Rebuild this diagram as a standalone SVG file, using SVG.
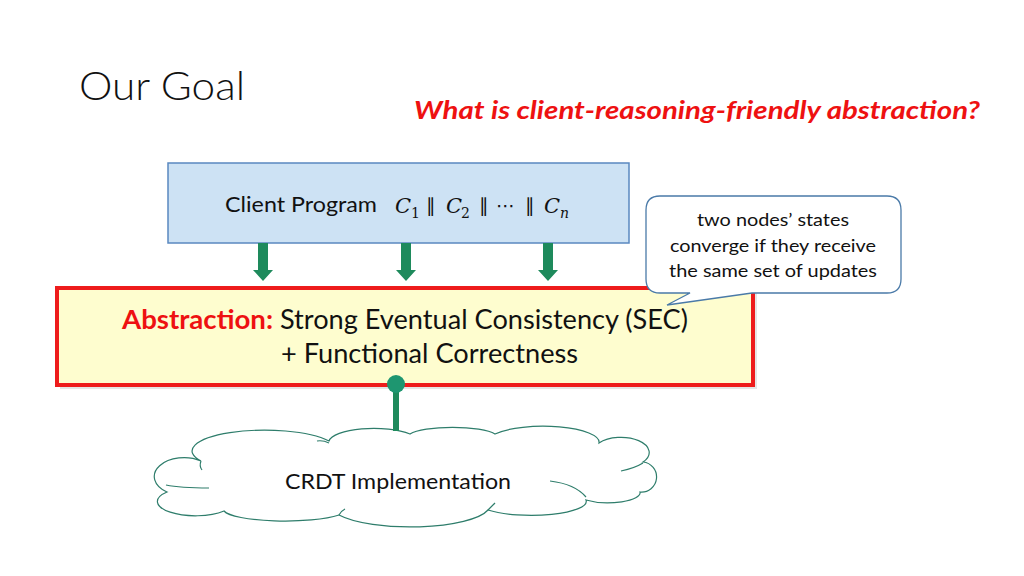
<svg xmlns="http://www.w3.org/2000/svg" width="1024" height="576" viewBox="0 0 1024 576">
<style>
text{font-family:Lato,"Open Sans","Liberation Sans",sans-serif;}
.math{font-family:"DejaVu Serif","Liberation Serif",serif;font-style:italic;font-size:21px;fill:#111;}
.sub{font-family:"DejaVu Serif","Liberation Serif",serif;font-size:14px;fill:#111;}
.bar{font-family:"DejaVu Sans","Liberation Sans",sans-serif;font-size:19px;fill:#111;}
.arrow{fill:#1e8a5c;}
.cl{fill:none;stroke:#2e7d6b;stroke-width:1.2;}
</style>
<rect width="1024" height="576" fill="#ffffff"/>
<text x="79" y="100" font-size="40" font-weight="300" fill="#111" textLength="166" lengthAdjust="spacingAndGlyphs">Our Goal</text>
<text x="414" y="119" font-size="24" font-weight="700" font-style="italic" fill="#ee1111" textLength="566" lengthAdjust="spacingAndGlyphs">What is client-reasoning-friendly abstraction?</text>

<g id="client">
<rect x="168" y="163" width="461" height="80" fill="#cde2f4" stroke="#5a88c0" stroke-width="1.5"/>
<text x="225" y="212" font-size="21" fill="#111" textLength="152" lengthAdjust="spacingAndGlyphs">Client Program</text>
<text class="math" x="395" y="213">C</text><text class="sub" x="411" y="218">1</text>
<text class="bar" x="426" y="212">∥</text>
<text class="math" x="446" y="213">C</text><text class="sub" x="461" y="218">2</text>
<text class="bar" x="479" y="212">∥</text>
<text class="bar" x="496" y="212">⋯</text>
<text class="bar" x="525" y="212">∥</text>
<text class="math" x="544" y="213">C</text><text class="sub" x="560" y="218" font-style="italic">n</text>
</g>

<g id="abstraction">
<rect x="60" y="291" width="697" height="98" fill="#cccccc" opacity="0.5"/>
<rect x="57" y="288" width="696" height="97" fill="#fefdcf" stroke="#ee1c1c" stroke-width="4"/>
<text x="122" y="329" font-size="26" font-weight="700" fill="#ee1111" textLength="151" lengthAdjust="spacingAndGlyphs">Abstraction:</text>
<text x="280" y="329" font-size="26" fill="#111" textLength="408" lengthAdjust="spacingAndGlyphs">Strong Eventual Consistency (SEC)</text>
<text x="281" y="363" font-size="26" fill="#111" textLength="297" lengthAdjust="spacingAndGlyphs">+ Functional Correctness</text>
</g>

<g id="callout">
<path d="M660,196 H887 Q901,196 901,210 V279 Q901,293 887,293 H752 L667,305 L690,293 H660 Q646,293 646,279 V210 Q646,196 660,196 Z" fill="#ffffff" stroke="#4a7aa8" stroke-width="1.3"/>
<text x="697" y="226" font-size="18" fill="#111" textLength="152" lengthAdjust="spacingAndGlyphs">two nodes’ states</text>
<text x="670" y="252" font-size="18" fill="#111" textLength="206" lengthAdjust="spacingAndGlyphs">converge if they receive</text>
<text x="669" y="277" font-size="18" fill="#111" textLength="208" lengthAdjust="spacingAndGlyphs">the same set of updates</text>
</g>

<g id="crdt">
<path d="M201,461 A70 20 0 0 1 329,441 A45 14 0 0 1 410,434 A45 10 0 0 1 495,434 A56 16 0 0 1 599,443 A26 14 0 0 1 643,462 A15 15 0 0 1 640,492 A32 10 0 0 1 586,500 A55 14 0 0 1 488,510 A80 22 0 0 1 339,515 A62 12 0 0 1 224,511 A32 12 0 0 1 167,492 A22 14 0 0 1 201,461 Z" fill="#ffffff" stroke="#2e7d6b" stroke-width="1.2"/>
<path class="cl" d="M201,461 Q199,466 202,470"/>
<path class="cl" d="M209,488 Q180,488 166,485"/>
<path class="cl" d="M317,441 Q323,440 329,443"/>
<path class="cl" d="M550,481 Q575,484 586,497"/>
<path class="cl" d="M621,471 Q635,468 643,463"/>
<path class="cl" d="M339,515 Q341,511 345,509"/>
<path class="cl" d="M488,510 Q492,506 495,503"/>
<text x="398" y="489" font-size="21" fill="#111" text-anchor="middle" textLength="226" lengthAdjust="spacingAndGlyphs">CRDT Implementation</text>
</g>

<g id="connectors">
<path class="arrow" d="M258,243 H268 V270 H273 L263,281 L253,270 H258 Z"/>
<path class="arrow" d="M401,243 H411 V270 H416 L406,281 L396,270 H401 Z"/>
<path class="arrow" d="M543,243 H553 V270 H558 L548,281 L538,270 H543 Z"/>
<line x1="396" y1="384" x2="396" y2="431" stroke="#1e8a5c" stroke-width="6"/>
<circle cx="396" cy="384" r="9" fill="#1e9670"/>
</g>
</svg>
